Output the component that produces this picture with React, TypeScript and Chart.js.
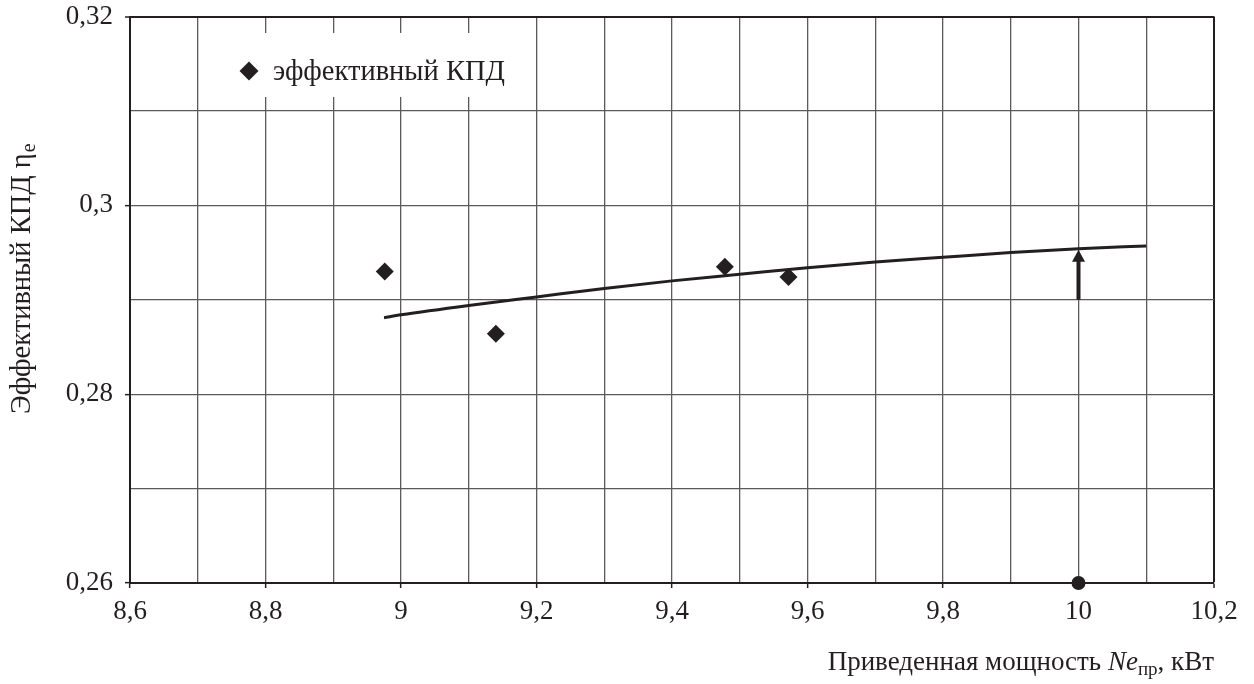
import React, { useEffect, useRef } from 'react';
import { Chart, registerables } from 'chart.js';

Chart.register(...registerables);

// Measured points (эффективный КПД)
const pointsX = [8.976, 9.14, 9.478, 9.572];
const pointsY = [0.293, 0.2864, 0.2935, 0.2924];

// Trend curve
const trendX = [8.975, 9.0, 9.1, 9.2, 9.3, 9.4, 9.5, 9.6, 9.7, 9.8, 9.9, 10.0, 10.1];
const trendY = [0.2881, 0.2884, 0.2894, 0.2903, 0.2912, 0.292, 0.2927, 0.2934, 0.294, 0.2945, 0.295, 0.2954, 0.2957];

// Marker dot on the x axis and arrow
const markerX = [10];
const markerY = [0.26];
const arrowX = [10];
const arrowY = [0.29, 0.2953];

const xTickLabels = ['8,6', '8,8', '9', '9,2', '9,4', '9,6', '9,8', '10', '10,2'];
const yTickLabels = ['0,26', '0,28', '0,3', '0,32'];

const legendLabel = 'эффективный КПД';
const xTitleMain = 'Приведенная мощность ';
const xTitleItalic = 'Ne';
const xTitleSub = 'пр';
const xTitleTail = ', кВт';
const yTitleMain = 'Эффективный КПД η';
const yTitleSub = 'e';

const INK = '#231f20';
const GRID = '#5a5a5a';
const FONT = '"Liberation Serif", "Times New Roman", serif';

const overlayPlugin = {
  id: 'overlay',
  beforeDatasetsDraw(chart: any) {
    const ctx = chart.ctx;
    // legend box (covers grid, under data)
    ctx.save();
    ctx.fillStyle = '#ffffff';
    ctx.fillRect(212, 33, 310, 64);
    // diamond
    const cx = 249, cy = 71, r = 9.5;
    ctx.fillStyle = INK;
    ctx.beginPath();
    ctx.moveTo(cx - r, cy);
    ctx.lineTo(cx, cy - r);
    ctx.lineTo(cx + r, cy);
    ctx.lineTo(cx, cy + r);
    ctx.closePath();
    ctx.fill();
    ctx.font = `28.5px ${FONT}`;
    ctx.textBaseline = 'alphabetic';
    ctx.textAlign = 'left';
    ctx.fillText(legendLabel, 273, 80);
    ctx.restore();
  },
  afterDatasetsDraw(chart: any) {
    const ctx = chart.ctx;
    const xs = chart.scales.x;
    const ys = chart.scales.y;
    // arrow
    const ax = xs.getPixelForValue(arrowX[0]);
    const y0 = ys.getPixelForValue(arrowY[0]);
    const tip = ys.getPixelForValue(arrowY[1]);
    ctx.save();
    ctx.strokeStyle = INK;
    ctx.fillStyle = INK;
    ctx.lineWidth = 4;
    ctx.beginPath();
    ctx.moveTo(ax, y0);
    ctx.lineTo(ax, tip + 10);
    ctx.stroke();
    ctx.beginPath();
    ctx.moveTo(ax, tip);
    ctx.lineTo(ax + 6.5, tip + 12);
    ctx.lineTo(ax - 6.5, tip + 12);
    ctx.closePath();
    ctx.fill();
    ctx.restore();
  },
  afterDraw(chart: any) {
    const ctx = chart.ctx;
    ctx.save();
    ctx.fillStyle = INK;
    ctx.textBaseline = 'alphabetic';
    ctx.textAlign = 'left';
    // x title, right aligned to plot right edge
    const fMain = `27px ${FONT}`;
    const fIt = `italic 27px ${FONT}`;
    const fSub = `19px ${FONT}`;
    ctx.font = fMain;
    const w1 = ctx.measureText(xTitleMain).width;
    const w4 = ctx.measureText(xTitleTail).width;
    ctx.font = fIt;
    const w2 = ctx.measureText(xTitleItalic).width;
    ctx.font = fSub;
    const w3 = ctx.measureText(xTitleSub).width;
    const right = chart.chartArea.right;
    let x = right - (w1 + w2 + w3 + w4);
    const base = 670;
    ctx.font = fMain;
    ctx.fillText(xTitleMain, x, base);
    x += w1;
    ctx.font = fIt;
    ctx.fillText(xTitleItalic, x, base);
    x += w2;
    ctx.font = fSub;
    ctx.fillText(xTitleSub, x, base + 5);
    x += w3;
    ctx.font = fMain;
    ctx.fillText(xTitleTail, x, base);

    // y title rotated
    const fY = `28.5px ${FONT}`;
    const fYSub = `20px ${FONT}`;
    ctx.translate(30, 414);
    ctx.rotate(-Math.PI / 2);
    ctx.font = fY;
    ctx.fillText(yTitleMain, 0, 0);
    const wy = ctx.measureText(yTitleMain).width;
    ctx.font = fYSub;
    ctx.fillText(yTitleSub, wy + 1, 5);
    ctx.restore();
  },
};

export default function App() {
  const ref = useRef<HTMLCanvasElement | null>(null);

  useEffect(() => {
    document.body.style.margin = '0';
    const canvas = ref.current;
    if (!canvas) return;
    const chart = new Chart(canvas, {
      type: 'scatter',
      data: {
        datasets: [
          {
            label: 'trend',
            data: trendX.map((v, i) => ({ x: v, y: trendY[i] })),
            showLine: true,
            borderColor: INK,
            borderWidth: 3,
            pointRadius: 0,
            tension: 0.4,
            cubicInterpolationMode: 'monotone',
            fill: false,
          } as any,
          {
            label: legendLabel,
            data: pointsX.map((v, i) => ({ x: v, y: pointsY[i] })),
            pointStyle: 'rectRot',
            pointRadius: 9,
            backgroundColor: INK,
            borderColor: INK,
            borderWidth: 0,
          },
          {
            label: 'marker',
            data: markerX.map((v, i) => ({ x: v, y: markerY[i] })),
            pointStyle: 'circle',
            pointRadius: 7,
            backgroundColor: INK,
            borderColor: INK,
            borderWidth: 0,
            clip: false,
          } as any,
        ],
      },
      options: {
        animation: false,
        responsive: false,
        devicePixelRatio: 1,
        layout: { padding: { left: 0, right: 40, top: 16.5, bottom: 0 } },
        plugins: {
          legend: { display: false },
          tooltip: { enabled: false },
          title: { display: false },
        },
        scales: {
          x: {
            type: 'linear',
            min: 8.6,
            max: 10.2,
            afterFit: (s: any) => { s.height = 101; s.paddingLeft = 0; s.paddingRight = 0; },
            ticks: {
              stepSize: 0.1,
              autoSkip: false,
              maxRotation: 0,
              padding: 8,
              color: INK,
              font: { family: FONT, size: 27 },
              callback: (_v: any, i: number) => (i % 2 === 0 ? xTickLabels[i / 2] : ''),
            },
            grid: {
              color: (c: any) => (c.index === 16 ? INK : GRID),
              lineWidth: (c: any) => (c.index === 16 ? 2 : 1.3),
              tickColor: (c: any) => (c.index % 2 === 0 ? INK : 'rgba(0,0,0,0)'),
              tickLength: 5,
              tickWidth: 1.5,
            },
            border: { color: INK, width: 2 },
          },
          y: {
            type: 'linear',
            min: 0.26,
            max: 0.32,
            afterFit: (s: any) => { s.width = 130; s.paddingTop = 0; s.paddingBottom = 0; },
            ticks: {
              stepSize: 0.01,
              autoSkip: false,
              padding: 12,
              color: INK,
              font: { family: FONT, size: 27 },
              callback: (_v: any, i: number) => (i % 2 === 0 ? yTickLabels[i / 2] : ''),
            },
            grid: {
              color: (c: any) => (c.index === 6 ? INK : GRID),
              lineWidth: (c: any) => (c.index === 6 ? 2 : 1.3),
              tickColor: (c: any) => (c.index % 2 === 0 ? INK : 'rgba(0,0,0,0)'),
              tickLength: 5,
              tickWidth: 1.5,
            },
            border: { color: INK, width: 2 },
          },
        },
      },
      plugins: [overlayPlugin],
    });
    return () => chart.destroy();
  }, []);

  return <canvas ref={ref} width={1254} height={684} style={{ display: 'block' }} />;
}
